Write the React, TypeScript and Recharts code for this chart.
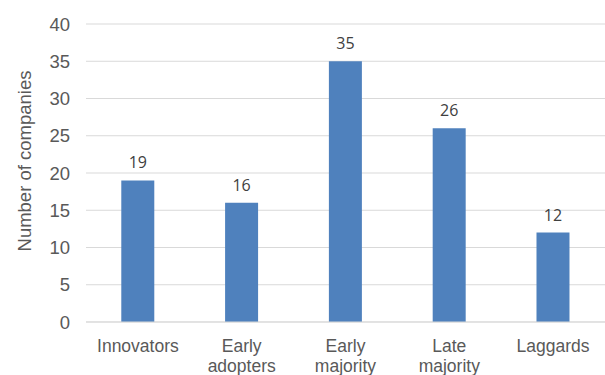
import { BarChart, Bar, XAxis, YAxis, CartesianGrid, LabelList } from "recharts";

const categories = ["Innovators", "Early adopters", "Early majority", "Late majority", "Laggards"];
const companies = [19, 16, 35, 26, 12];
const yTicks = [0, 5, 10, 15, 20, 25, 30, 35, 40];

const data = categories.map((name, i) => ({ name, companies: companies[i] }));

const axisFont = "'Liberation Sans', Arial, sans-serif";
const textGray = "#595959";

// category names wrap on spaces, like the original
function CategoryTick(props: any) {
  const { x, y, payload } = props;
  const lines = String(payload.value).split(" ");
  return (
    <g>
      {lines.map((line, i) => (
        <text
          key={i}
          x={x}
          y={y + 22 + i * 19.5}
          textAnchor="middle"
          fill={textGray}
          fontSize={17.5}
          fontFamily={axisFont}
        >
          {line}
        </text>
      ))}
    </g>
  );
}

export default function App() {
  return (
    <div style={{ position: "absolute", left: 0, top: 0, background: "#fff" }}>
      <BarChart
        width={605}
        height={375}
        data={data}
        margin={{ top: 24, right: 0, left: 0, bottom: 0 }}
        barCategoryGap="34%"
      >
        <CartesianGrid vertical={false} stroke="#d9d9d9" strokeWidth={1} />
        <XAxis
          dataKey="name"
          height={53}
          axisLine={{ stroke: "#d9d9d9" }}
          tickLine={false}
          tick={<CategoryTick />}
          interval={0}
        />
        <YAxis
          width={86}
          domain={[0, 40]}
          ticks={yTicks}
          axisLine={false}
          tickLine={false}
          tickMargin={10}
          tick={{ fill: textGray, fontSize: 18.5, fontFamily: axisFont }}
          label={() => (
            <text
              x={0}
              y={0}
              transform="translate(31,161) rotate(-90)"
              textAnchor="middle"
              fill={textGray}
              fontSize={18.5}
              fontFamily={axisFont}
            >
              Number of companies
            </text>
          )}
        />
        <Bar dataKey="companies" fill="#4f81bd" isAnimationActive={false}>
          <LabelList
            dataKey="companies"
            position="top"
            offset={12}
            fill="#404040"
            fontSize={16}
            fontFamily="'Open Sans', 'Noto Sans', sans-serif"
          />
        </Bar>
      </BarChart>
    </div>
  );
}
